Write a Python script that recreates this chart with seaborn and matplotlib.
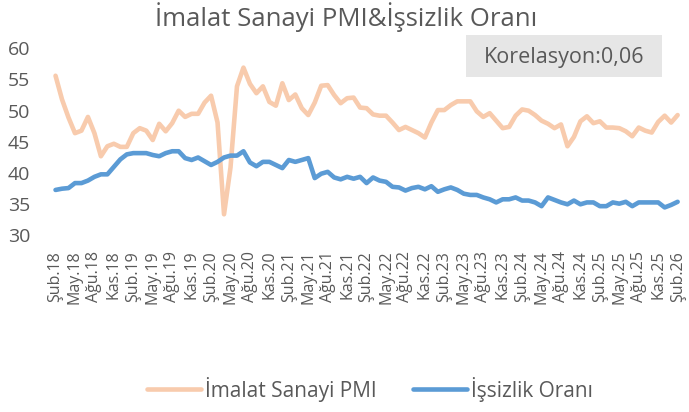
import matplotlib
matplotlib.use("Agg")
import matplotlib.pyplot as plt
import seaborn as sns
import numpy as np
import pandas as pd

# monthly series, Şub.18 -> Şub.26
pmi = [55.6, 51.8, 48.9, 46.4, 46.8, 49.0, 46.4, 42.7, 44.3, 44.7, 44.2,
       44.2, 46.4, 47.2, 46.8, 45.3, 47.9, 46.7, 48.0, 50.0, 49.0, 49.5, 49.5,
       51.3, 52.4, 48.1, 33.4, 40.9, 53.9, 56.9, 54.3, 52.8, 53.9, 51.4, 50.8,
       54.4, 51.7, 52.6, 50.4, 49.3, 51.3, 54.0, 54.1, 52.5, 51.2, 52.0, 52.1,
       50.5, 50.4, 49.4, 49.2, 49.2, 48.1, 46.9, 47.4, 46.9, 46.4, 45.7, 48.1,
       50.1, 50.1, 50.9, 51.5, 51.5, 51.5, 49.9, 49.0, 49.6, 48.4, 47.2, 47.4,
       49.2, 50.2, 50.0, 49.3, 48.4, 47.9, 47.2, 47.8, 44.3, 45.8, 48.3, 49.1,
       48.0, 48.3, 47.3, 47.3, 47.2, 46.7, 45.9, 47.3, 46.8, 46.5, 48.2, 49.2,
       48.1, 49.3]

issizlik = [37.3, 37.5, 37.6, 38.4, 38.4, 38.8, 39.4, 39.8, 39.8, 41.0, 42.2,
            43.0, 43.2, 43.2, 43.2, 42.9, 42.7, 43.2, 43.5, 43.5, 42.4, 42.1, 42.5,
            41.9, 41.3, 41.8, 42.5, 42.8, 42.8, 43.5, 41.7, 41.1, 41.8, 41.8, 41.3,
            40.8, 42.1, 41.8, 42.1, 42.4, 39.2, 39.9, 40.2, 39.3, 39.0, 39.4, 39.1,
            39.4, 38.4, 39.3, 38.8, 38.6, 37.8, 37.7, 37.2, 37.6, 37.8, 37.4, 37.9,
            37.0, 37.4, 37.7, 37.3, 36.7, 36.5, 36.5, 36.1, 35.8, 35.3, 35.8, 35.8,
            36.1, 35.6, 35.6, 35.3, 34.7, 36.1, 35.7, 35.3, 35.0, 35.6, 35.0, 35.3,
            35.3, 34.7, 34.7, 35.3, 35.1, 35.4, 34.7, 35.3, 35.3, 35.3, 35.3, 34.5,
            34.9, 35.4]

tick_labels = ["Şub.18", "May.18", "Ağu.18", "Kas.18", "Şub.19", "May.19", "Ağu.19", "Kas.19",
               "Şub.20", "May.20", "Ağu.20", "Kas.20", "Şub.21", "May.21", "Ağu.21", "Kas.21",
               "Şub.22", "May.22", "Ağu.22", "Kas.22", "Şub.23", "May.23", "Ağu.23", "Kas.23",
               "Şub.24", "May.24", "Ağu.24", "Kas.24", "Şub.25", "May.25", "Ağu.25", "Kas.25",
               "Şub.26"]

korelasyon = "0,06"

sns.set_style("white")
plt.rcParams["font.family"] = ["Open Sans", "DejaVu Sans"]
gray = "#595959"

df = pd.DataFrame({"ay": np.arange(len(pmi)), "pmi": pmi, "issizlik": issizlik})

W, H = 689, 412
fig = plt.figure(figsize=(W / 100, H / 100), dpi=100)
ax = fig.add_axes([0.0759, 0.4284, 0.9123, 0.4544])

sns.lineplot(data=df, x="ay", y="pmi", ax=ax, color="#F8CBAD", linewidth=3.3,
             label="İmalat Sanayi PMI", solid_capstyle="round", solid_joinstyle="round")
sns.lineplot(data=df, x="ay", y="issizlik", ax=ax, color="#5B9BD5", linewidth=3.3,
             label="İşsizlik Oranı", solid_capstyle="round", solid_joinstyle="round")

ax.set_xlim(-0.5, len(pmi) - 0.5)
ax.set_ylim(30, 60)
ax.set_yticks(range(30, 61, 5))
ax.set_xticks(range(0, len(pmi), 3))
ax.set_xticklabels(tick_labels, rotation=90, fontsize=11.5, color=gray)
ax.tick_params(axis="y", labelsize=14, labelcolor=gray, length=0, pad=16)
ax.tick_params(axis="x", length=0, pad=11)
ax.set_xlabel("")
ax.set_ylabel("")
sns.despine(ax=ax, left=True, bottom=True)

fig.text(346 / W, 1 - 17 / H, "İmalat Sanayi PMI&İşsizlik Oranı", ha="center", va="center",
         fontsize=18.5, color=gray)

# korelasyon kutusu
fig.patches.append(plt.Rectangle((466 / W, 1 - 77 / H), 196 / W, 42 / H,
                                 transform=fig.transFigure, facecolor="#E6E6E6",
                                 edgecolor="none", zorder=0))
fig.text(564 / W, 1 - 57 / H, "Korelasyon:" + korelasyon, ha="center", va="center",
         fontsize=15.5, color=gray)

ax.legend(loc="center", bbox_to_anchor=(370 / W, 1 - 389 / H), bbox_transform=fig.transFigure,
          ncol=2, frameon=False, fontsize=15, handlelength=2.6, handletextpad=0.2,
          columnspacing=1.7, labelcolor=gray)

fig.savefig("out.png", dpi=100)
